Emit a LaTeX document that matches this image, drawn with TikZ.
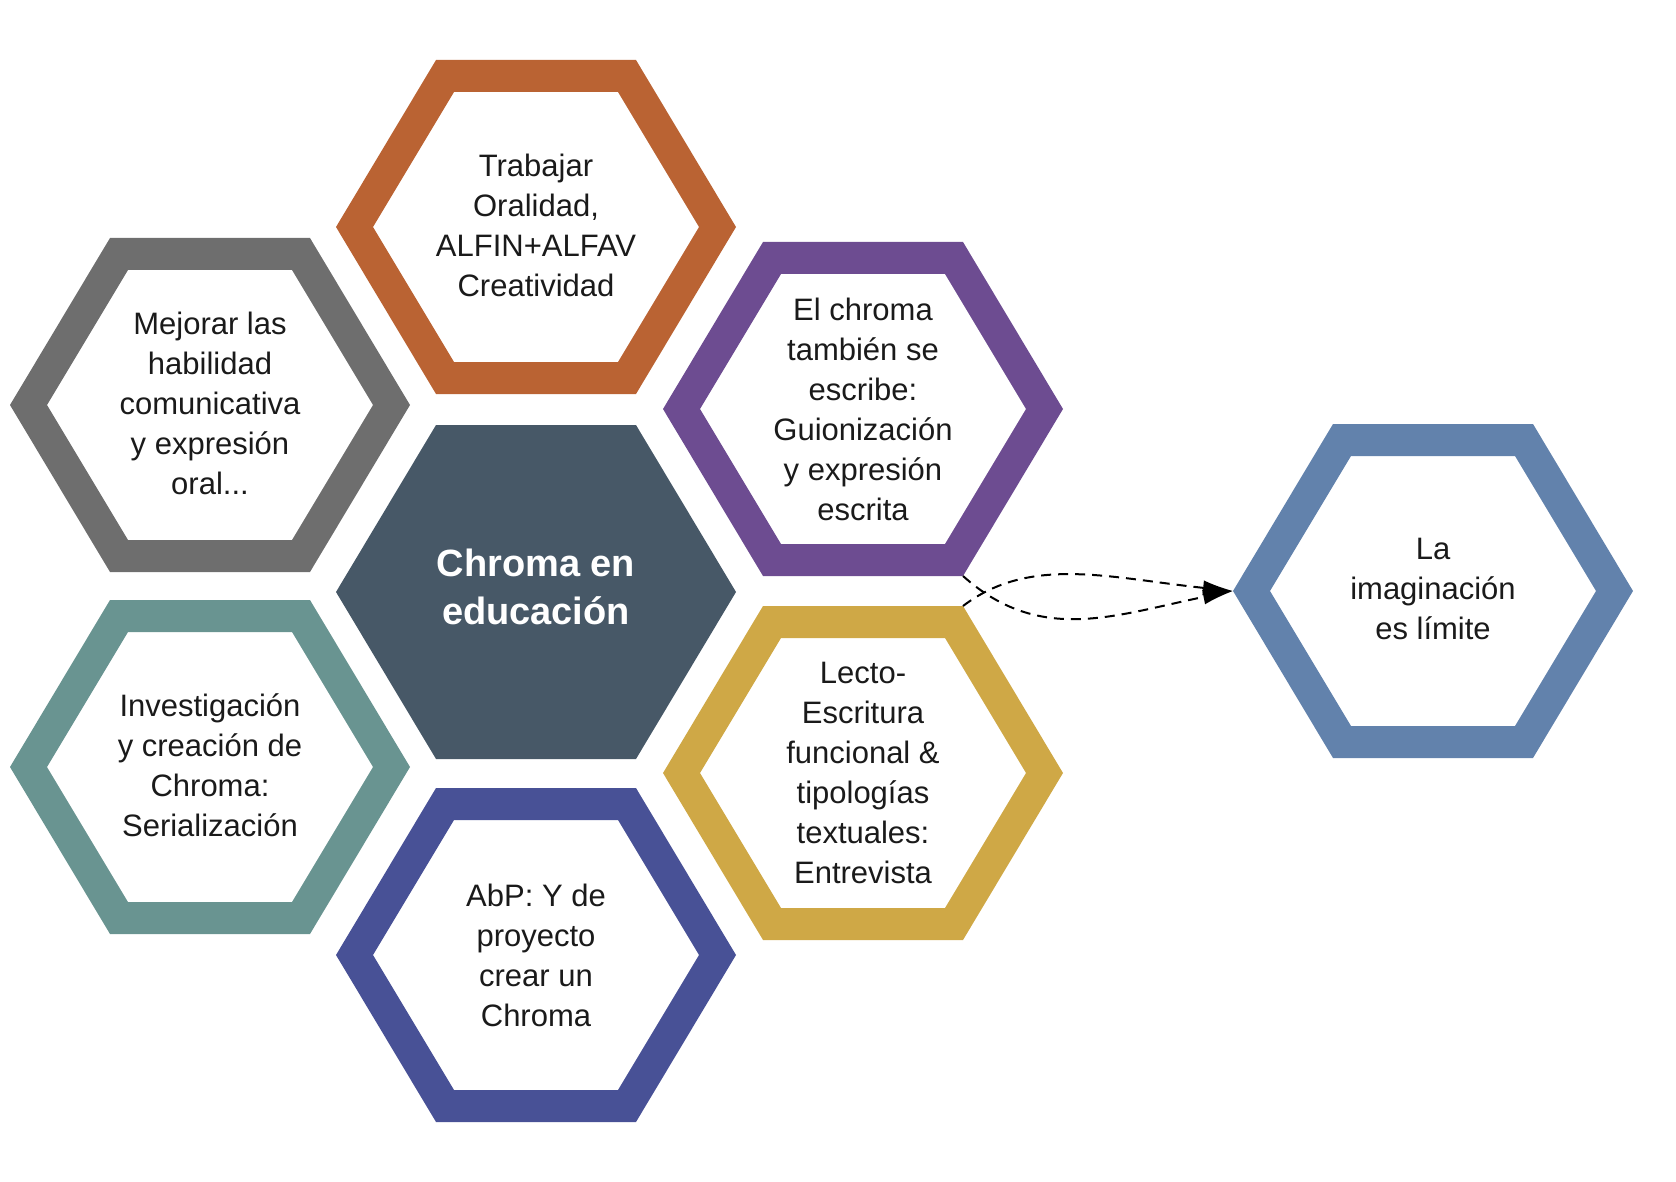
\documentclass[tikz,border=0pt]{standalone}
\usepackage{fontspec}
\setmainfont{Liberation Sans}
\usetikzlibrary{arrows.meta}
\definecolor{cOrange}{HTML}{BA6333}
\definecolor{cGray}{HTML}{6E6E6E}
\definecolor{cPurple}{HTML}{6D4C91}
\definecolor{cTeal}{HTML}{699491}
\definecolor{cYellow}{HTML}{CFA846}
\definecolor{cNavy}{HTML}{485196}
\definecolor{cBlue}{HTML}{6282AC}
\definecolor{cCenter}{HTML}{475867}
\definecolor{cText}{HTML}{1A1A1A}
\newcommand\hexring[2]{%
  \begin{scope}[shift={#1}]
    \fill[#2, even odd rule]
      (200,0)--(100,167)--(-100,167)--(-200,0)--(-100,-167)--(100,-167)--cycle
      (163,0)--(82,135)--(-82,135)--(-163,0)--(-82,-135)--(82,-135)--cycle;
  \end{scope}}
\begin{document}
\begin{tikzpicture}[x=1pt,y=-1pt,
  hextext/.style={align=center, text=cText, font=\fontsize{31}{40}\selectfont, inner sep=0pt},
  centertext/.style={align=center, text=white, font=\bfseries\fontsize{38}{48}\selectfont, inner sep=0pt},
  link/.style={dashed, dash pattern=on 10pt off 7pt, line width=2pt, black, -{Latex[length=30pt,width=15pt]}}]
\useasboundingbox (0,0) rectangle (1676,1182);

% central filled hexagon
\fill[cCenter] (736,592)--(636,759)--(436,759)--(336,592)--(436,425)--(636,425)--cycle;

\hexring{(536,227)}{cOrange}
\hexring{(210,405)}{cGray}
\hexring{(863,409)}{cPurple}
\hexring{(210,767)}{cTeal}
\hexring{(863,773)}{cYellow}
\hexring{(536,955)}{cNavy}
\hexring{(1433,591)}{cBlue}

\node[centertext] (center) at (536,587) {Chroma en\\educación};
\node[hextext] (orange) at (536,225) {Trabajar\\Oralidad,\\ALFIN+ALFAV\\Creatividad};
\node[hextext] (gray) at (210,403) {Mejorar las\\habilidad\\comunicativa\\y expresión\\oral...};
\node[hextext] (purple) at (863,409) {El chroma\\también se\\escribe:\\Guionización\\y expresión\\escrita};
\node[hextext] (teal) at (210,765) {Investigación\\y creación de\\Chroma:\\Serialización};
\node[hextext] (yellow) at (863,773) {Lecto-\\Escritura\\funcional \&\\tipologías\\textuales:\\Entrevista};
\node[hextext] (navy) at (536,955) {AbP: Y de\\proyecto\\crear un\\Chroma};
\node[hextext] (blue) at (1433,589) {La\\imaginación\\es límite};

\coordinate (purpleCorner) at (963,576);
\coordinate (yellowCorner) at (963,606);
\coordinate (blueLeft) at (1233,591);

\draw[link] (purpleCorner) .. controls (1040,645) and (1115,615) .. (blueLeft);
\draw[link] (yellowCorner) .. controls (1030,555) and (1110,578) .. (blueLeft);
\end{tikzpicture}
\end{document}
